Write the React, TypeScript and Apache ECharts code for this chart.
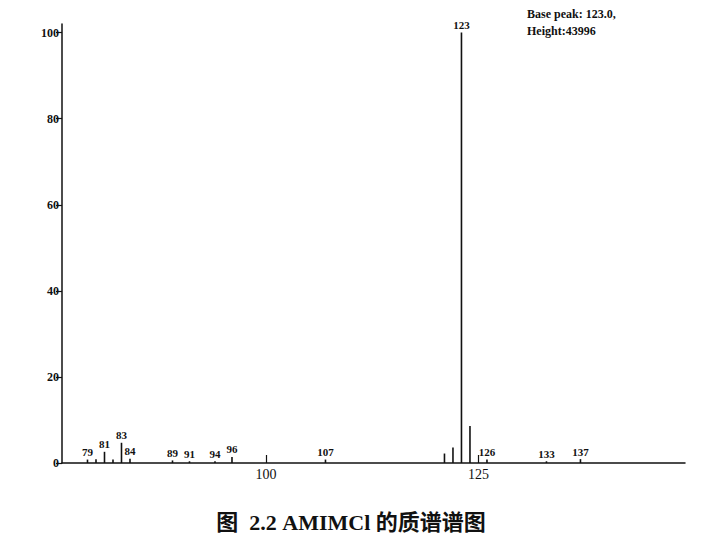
import React, { useEffect, useRef } from "react";
import * as echarts from "echarts";

// m/z values and relative intensities (%)
const mz = [79, 80, 81, 82, 83, 84, 89, 91, 94, 96, 107, 121, 122, 123, 124, 126, 133, 137];
const intensity = [0.8, 0.9, 2.6, 0.8, 4.7, 1.0, 0.6, 0.4, 0.4, 1.4, 0.8, 2.2, 3.6, 100, 8.6, 0.8, 0.4, 0.9];
const peakLabels = ["79", "", "81", "", "83", "84", "89", "91", "94", "96", "107", "", "", "123", "", "126", "133", "137"];
const yTicks = [0, 20, 40, 60, 80, 100];
const xTicks = [100, 125];
const noteLines = ["Base peak: 123.0,", "Height:43996"];
const caption = "图  2.2 AMIMCl 的质谱谱图";

export default function App() {
  const ref = useRef<HTMLDivElement>(null);
  useEffect(() => {
    document.body.style.margin = "0";
    const chart = echarts.init(ref.current!, null, { renderer: "svg" });
    const labelFont = {
      fontFamily: "Liberation Serif, DejaVu Serif, serif",
      fontWeight: "bold" as const,
      fontSize: 11,
      color: "#111",
    };
    chart.setOption({
      animation: false,
      backgroundColor: "#fff",
      grid: { left: 62, right: 33, top: 24, bottom: 82 },
      xAxis: {
        type: "value",
        min: 76,
        max: 149.3,
        axisLine: { lineStyle: { color: "#111", width: 1.5 } },
        splitLine: { show: false },
        axisTick: { inside: true, length: 8, customValues: xTicks, lineStyle: { color: "#111", width: 1.2 } },
        axisLabel: {
          customValues: xTicks,
          margin: 4,
          fontFamily: "Liberation Serif, serif",
          fontSize: 14,
          color: "#111",
        },
      },
      yAxis: {
        type: "value",
        min: 0,
        max: 102,
        axisLine: { show: true, lineStyle: { color: "#111", width: 1.5 } },
        splitLine: { show: false },
        axisTick: { show: true, length: 6, customValues: yTicks, lineStyle: { color: "#111", width: 1.2 } },
        axisLabel: {
          customValues: yTicks,
          margin: 3,
          fontFamily: "Liberation Serif, serif",
          fontWeight: "bold",
          fontSize: 12,
          color: "#111",
        },
      },
      series: [
        {
          type: "bar",
          barWidth: 1.6,
          itemStyle: { color: "#111" },
          data: mz.map((m, i) => ({
            value: [m, intensity[i]],
            label: peakLabels[i]
              ? { show: true, position: "top", distance: 2, formatter: peakLabels[i], ...labelFont }
              : { show: false },
          })),
        },
      ],
      graphic: [
        {
          type: "text",
          left: 527,
          top: 5,
          style: {
            text: noteLines.join("\n"),
            fontFamily: "Liberation Serif, serif",
            fontWeight: "bold",
            fontSize: 12,
            lineHeight: 17,
            fill: "#111",
          },
        },
        {
          type: "text",
          x: 351,
          y: 522,
          style: {
            text: caption,
            fontFamily: "Liberation Serif, Noto Sans CJK SC, serif",
            fontWeight: "bold",
            fontSize: 22,
            fill: "#111",
            align: "center",
            verticalAlign: "middle",
          },
        },
      ],
    });
    return () => chart.dispose();
  }, []);
  return <div ref={ref} style={{ width: 718, height: 545 }} />;
}
